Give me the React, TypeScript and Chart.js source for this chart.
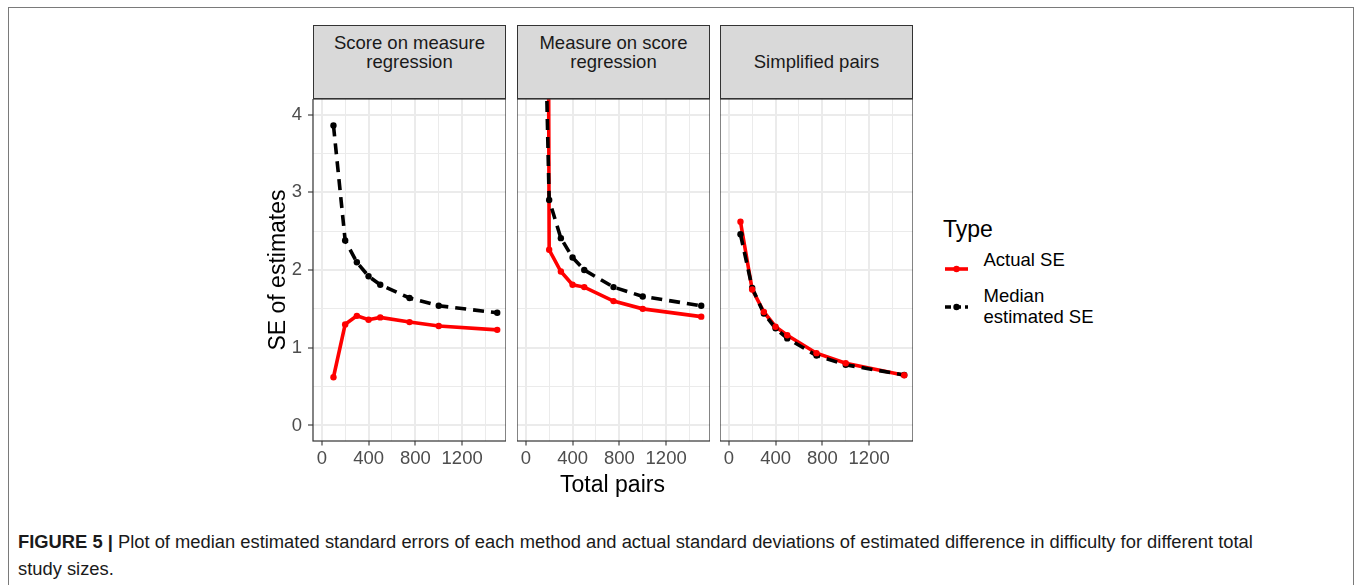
import React, { useEffect, useRef } from 'react';
import { Chart, registerables } from 'chart.js';

Chart.register(...registerables);

// ---------- data ----------
const totalPairs = [100, 200, 300, 400, 500, 750, 1000, 1500];

const actualScoreOnMeasure = [0.62, 1.3, 1.41, 1.36, 1.39, 1.33, 1.28, 1.23];
const medianScoreOnMeasure = [3.86, 2.38, 2.1, 1.92, 1.81, 1.64, 1.54, 1.45];

const actualMeasureOnScore = [50, 2.26, 1.98, 1.81, 1.78, 1.6, 1.5, 1.4];
const medianMeasureOnScore = [9.5, 2.9, 2.41, 2.16, 2.0, 1.78, 1.66, 1.54];

const actualSimplified = [2.62, 1.75, 1.46, 1.27, 1.16, 0.93, 0.8, 0.645];
const medianSimplified = [2.46, 1.77, 1.44, 1.25, 1.12, 0.9, 0.78, 0.65];

const panelTitles = [
  ['Score on measure', 'regression'],
  ['Measure on score', 'regression'],
  ['Simplified pairs'],
];

const xMajorTicks = [0, 400, 800, 1200];
const xMinorTicks = [200, 600, 1000, 1400];
const yMajorTicks = [0, 1, 2, 3, 4];
const yMinorTicks = [0.5, 1.5, 2.5, 3.5];

const legendTitle = 'Type';
const legendLabels = [['Actual SE'], ['Median', 'estimated SE']];
const xTitle = 'Total pairs';
const yTitle = 'SE of estimates';
const captionBold = 'FIGURE 5 |';
const captionLine1 =
  ' Plot of median estimated standard errors of each method and actual standard deviations of estimated difference in difficulty for different total';
const captionLine2 = 'study sizes.';

// ---------- style ----------
const FONT = '"Liberation Sans", Arial, Helvetica, sans-serif';
const RED = '#ff0000';
const BLACK = '#000000';
const GRID = '#ebebeb';
const DARK = '#333333';

const PLOT_TOP = 99;
const PLOT_H = 342;
const X_AXIS_H = 40;
const Y_AXIS_W = 43;
const POINT_R = 3.2;

const panelBorder = {
  id: 'panelBorder',
  afterDraw(chart: any) {
    const { ctx, chartArea: a } = chart;
    ctx.save();
    ctx.strokeStyle = DARK;
    ctx.lineWidth = 1.2;
    ctx.strokeRect(a.left, a.top, a.right - a.left, a.bottom - a.top);
    ctx.restore();
  },
};

function Panel(props: {
  actual: number[];
  median: number[];
  showY: boolean;
  plotLeft: number;
  plotWidth: number;
}) {
  const { actual, median, showY, plotLeft, plotWidth } = props;
  const ref = useRef<HTMLCanvasElement>(null);
  const yw = showY ? Y_AXIS_W : 0;
  const cw = yw + plotWidth;
  const ch = PLOT_H + X_AXIS_H;

  useEffect(() => {
    const xTicks = [...xMajorTicks, ...xMinorTicks].sort((a, b) => a - b);
    const yTicks = [...yMajorTicks, ...yMinorTicks].sort((a, b) => a - b);
    const pts = (vals: number[]) => totalPairs.map((x, i) => ({ x, y: vals[i] }));
    const isMajorX = (v: number) => xMajorTicks.includes(v);
    const isMajorY = (v: number) => yMajorTicks.includes(v);

    const chart = new Chart(ref.current as HTMLCanvasElement, {
      type: 'line',
      data: {
        datasets: [
          {
            data: pts(actual),
            showLine: false,
            pointRadius: POINT_R,
            pointBackgroundColor: RED,
            pointBorderWidth: 0,
            clip: 0,
          } as any,
          {
            data: pts(median),
            showLine: false,
            pointRadius: POINT_R,
            pointBackgroundColor: BLACK,
            pointBorderWidth: 0,
            clip: 0,
          },
          {
            data: pts(median),
            borderColor: BLACK,
            borderWidth: 3.6,
            borderDash: [11, 7],
            pointRadius: 0,
            tension: 0,
            clip: 0,
          },
          {
            data: pts(actual),
            borderColor: RED,
            borderWidth: 3.6,
            pointRadius: 0,
            tension: 0,
            clip: 0,
          },
        ],
      },
      options: {
        animation: false,
        responsive: false,
        maintainAspectRatio: false,
        events: [],
        layout: { padding: 0, autoPadding: false },
        plugins: { legend: { display: false }, tooltip: { enabled: false } },
        scales: {
          x: {
            type: 'linear',
            min: -75,
            max: 1575,
            afterBuildTicks: (s: any) => {
              s.ticks = xTicks.map((v) => ({ value: v }));
            },
            afterFit: (s: any) => {
              s.height = X_AXIS_H;
              s.paddingLeft = 0;
              s.paddingRight = 0;
            },
            border: { display: false },
            grid: {
              color: GRID,
              lineWidth: (c: any) => (isMajorX(c.tick.value) ? 2 : 1),
              tickLength: 4.5,
              tickWidth: 1.1,
              tickColor: (c: any) => (isMajorX(c.tick.value) ? DARK : 'rgba(0,0,0,0)'),
            },
            ticks: {
              autoSkip: false,
              maxRotation: 0,
              minRotation: 0,
              padding: 2,
              color: '#4d4d4d',
              font: { family: FONT, size: 18.5 },
              callback: (v: any) => (isMajorX(Number(v)) ? String(v) : ''),
            },
          },
          y: {
            type: 'linear',
            min: -0.2,
            max: 4.2,
            afterBuildTicks: (s: any) => {
              s.ticks = yTicks.map((v) => ({ value: v }));
            },
            afterFit: (s: any) => {
              s.width = yw;
              s.paddingTop = 0;
              s.paddingBottom = 0;
            },
            border: { display: false },
            grid: {
              color: GRID,
              lineWidth: (c: any) => (isMajorY(c.tick.value) ? 2 : 1),
              drawTicks: showY,
              tickLength: 5,
              tickWidth: 1.1,
              tickColor: (c: any) => (isMajorY(c.tick.value) ? DARK : 'rgba(0,0,0,0)'),
            },
            ticks: {
              display: showY,
              autoSkip: false,
              padding: 6,
              color: '#4d4d4d',
              font: { family: FONT, size: 18.5 },
              callback: (v: any) => (isMajorY(Number(v)) ? String(v) : ''),
            },
          },
        },
      } as any,
      plugins: [panelBorder],
    });
    return () => chart.destroy();
  }, []);

  return (
    <canvas
      ref={ref}
      width={cw}
      height={ch}
      style={{
        position: 'absolute',
        left: plotLeft - yw,
        top: PLOT_TOP,
        width: cw,
        height: ch,
      }}
    />
  );
}

function Strip(props: { left: number; width: number; lines: string[] }) {
  const { left, width, lines } = props;
  const single = lines.length === 1;
  return (
    <>
      <div
        style={{
          position: 'absolute',
          left,
          top: 25,
          width,
          height: 74,
          boxSizing: 'border-box',
          background: '#d9d9d9',
          border: `1.2px solid ${DARK}`,
        }}
      />
      <div
        style={{
          position: 'absolute',
          left,
          top: single ? 52.3 : 33.1,
          width,
          textAlign: 'center',
          fontFamily: FONT,
          fontSize: 18.5,
          lineHeight: '19px',
          color: '#1a1a1a',
          whiteSpace: 'nowrap',
        }}
      >
        {lines.map((l, i) => (
          <div key={i}>{l}</div>
        ))}
      </div>
    </>
  );
}

function LegendKey(props: { top: number; dashed: boolean; color: string }) {
  const { top, dashed, color } = props;
  return (
    <svg
      width={26}
      height={12}
      style={{ position: 'absolute', left: 944, top: top - 6 }}
    >
      <line
        x1={1}
        y1={6}
        x2={24}
        y2={6}
        stroke={color}
        strokeWidth={3.6}
        strokeDasharray={dashed ? '6 4' : undefined}
      />
      <circle cx={12.5} cy={6} r={POINT_R} fill={color} />
    </svg>
  );
}

export default function App() {
  const panels = [
    { left: 313, width: 193, actual: actualScoreOnMeasure, median: medianScoreOnMeasure },
    { left: 517, width: 193, actual: actualMeasureOnScore, median: medianMeasureOnScore },
    { left: 720, width: 193, actual: actualSimplified, median: medianSimplified },
  ];
  const txt: React.CSSProperties = { position: 'absolute', fontFamily: FONT, whiteSpace: 'nowrap' };
  return (
    <div
      style={{
        position: 'absolute',
        left: 0,
        top: 0,
        width: 1356,
        height: 585,
        overflow: 'hidden',
        background: '#ffffff',
      }}
    >
      <div
        style={{
          position: 'absolute',
          left: 7.5,
          top: 6.5,
          width: 1346,
          height: 640,
          boxSizing: 'border-box',
          border: '1.5px solid #7a7a7a',
        }}
      />
      {panels.map((p, i) => (
        <Strip key={'s' + i} left={p.left} width={p.width} lines={panelTitles[i]} />
      ))}
      {panels.map((p, i) => (
        <Panel
          key={'p' + i}
          actual={p.actual}
          median={p.median}
          showY={i === 0}
          plotLeft={p.left}
          plotWidth={p.width}
        />
      ))}
      <div
        style={{
          ...txt,
          left: 277 - 150,
          top: 270 - 14,
          width: 300,
          height: 28,
          lineHeight: '28px',
          fontSize: 23,
          textAlign: 'center',
          color: '#000',
          transform: 'rotate(-90deg)',
        }}
      >
        {yTitle}
      </div>
      <div
        style={{
          ...txt,
          left: 612.5 - 150,
          top: 469.5,
          width: 300,
          lineHeight: '28px',
          fontSize: 23,
          textAlign: 'center',
          color: '#000',
        }}
      >
        {xTitle}
      </div>
      <div style={{ ...txt, left: 943, top: 214.7, lineHeight: '28px', fontSize: 23, color: '#000' }}>
        {legendTitle}
      </div>
      <div style={{ ...txt, left: 983.5, top: 249.6, lineHeight: '20px', fontSize: 18.5, color: '#000' }}>
        {legendLabels[0].join(' ')}
      </div>
      <div style={{ ...txt, left: 983.5, top: 286.3, lineHeight: '20.5px', fontSize: 18.5, color: '#000' }}>
        {legendLabels[1].map((l, i) => (
          <div key={i}>{l}</div>
        ))}
      </div>
      <LegendKey top={269} dashed={false} color={RED} />
      <LegendKey top={307.3} dashed={true} color={BLACK} />
      <div style={{ ...txt, left: 18, top: 527.7, lineHeight: '27px', fontSize: 18.35, color: '#1a1a1a' }}>
        <b>{captionBold}</b>
        {captionLine1}
      </div>
      <div style={{ ...txt, left: 18, top: 554.7, lineHeight: '27px', fontSize: 18.35, color: '#1a1a1a' }}>
        {captionLine2}
      </div>
    </div>
  );
}
